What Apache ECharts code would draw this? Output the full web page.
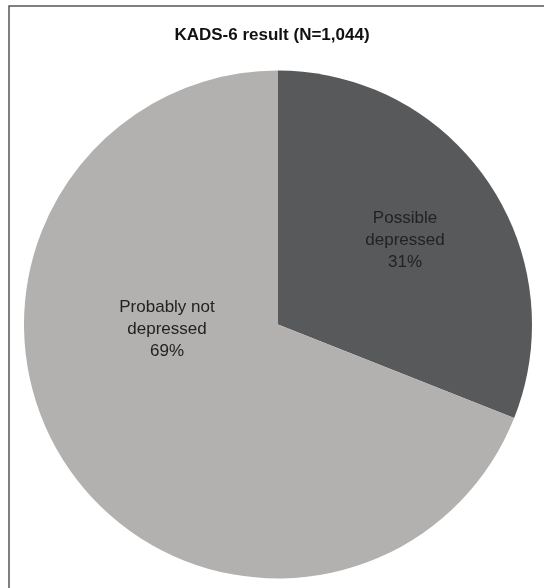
<!DOCTYPE html>
<html>
<head>
<meta charset="utf-8">
<script src="https://cdn.jsdelivr.net/npm/echarts@6/dist/echarts.min.js"></script>
<style>
html,body{margin:0;padding:0;background:#fff;}
#c{width:544px;height:588px;}
</style>
</head>
<body>
<div id="c"></div>
<script>
const titleText = 'KADS-6 result (N=1,044)';
const categories = ['Possible\ndepressed', 'Probably not\ndepressed'];
const values = [31, 69];
const colors = ['#58595b', '#b2b1af'];

const chart = echarts.init(document.getElementById('c'), null, {renderer: 'canvas'});
const labelPos = [[405, 240], [167, 329]];
chart.setOption({
  animation: false,
  backgroundColor: '#fff',
  title: {
    text: titleText,
    left: 267, top: 22, textAlign: 'center',
    textStyle: {fontFamily: 'Liberation Sans, Arial, sans-serif', fontWeight: 'bold', fontSize: 17, color: '#111'}
  },
  graphic: [{
    type: 'rect',
    shape: {x: 9, y: 6, width: 560, height: 600},
    style: {fill: 'none', stroke: '#555', lineWidth: 1.5},
    silent: true
  }],
  series: [{
    type: 'pie',
    center: [278, 324.5],
    radius: [0, 254],
    startAngle: 90,
    clockwise: true,
    silent: true,
    data: categories.map((n, i) => ({name: n, value: values[i], itemStyle: {color: colors[i]}})),
    label: {
      show: true,
      position: 'inside',
      formatter: p => p.name + '\n' + p.value + '%',
      fontFamily: 'Liberation Sans, Arial, sans-serif',
      fontSize: 17,
      lineHeight: 22,
      color: '#222',
      align: 'center'
    },
    labelLayout: p => ({x: labelPos[p.dataIndex][0], y: labelPos[p.dataIndex][1], align: 'center', verticalAlign: 'middle'}),
    labelLine: {show: false}
  }]
});
</script>
</body>
</html>
